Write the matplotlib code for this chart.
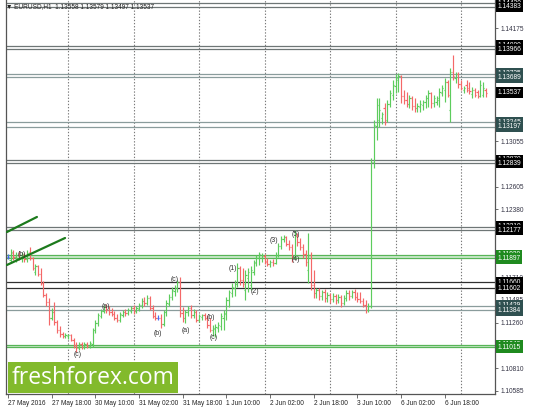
import matplotlib
matplotlib.use('Agg')
import matplotlib.pyplot as plt
from matplotlib.transforms import blended_transform_factory
from matplotlib.patches import Rectangle

# ---------------- data (EURUSD H1) ----------------
opens = [1.11910, 1.11881, 1.11950, 1.11910, 1.11930, 1.11900, 1.11930, 1.11890, 1.11960, 1.11900,
         1.11762, 1.11821, 1.11742, 1.11653, 1.11534, 1.11465, 1.11307, 1.11366, 1.11267, 1.11188,
         1.11149, 1.11129, 1.11129, 1.11139, 1.11089, 1.11040, 1.11010, 1.11050, 1.11020, 1.11050,
         1.11030, 1.11050, 1.11188, 1.11258, 1.11327, 1.11376, 1.11416, 1.11386, 1.11366, 1.11347,
         1.11307, 1.11287, 1.11337, 1.11366, 1.11356, 1.11376, 1.11406, 1.11376, 1.11396, 1.11436,
         1.11475, 1.11455, 1.11505, 1.11406, 1.11327, 1.11307, 1.11307, 1.11248, 1.11366, 1.11445,
         1.11515, 1.11574, 1.11604, 1.11663, 1.11356, 1.11307, 1.11366, 1.11406, 1.11337, 1.11366,
         1.11287, 1.11317, 1.11337, 1.11307, 1.11238, 1.11188, 1.11198, 1.11208, 1.11228, 1.11307,
         1.11347, 1.11485, 1.11554, 1.11604, 1.11643, 1.11801, 1.11683, 1.11584, 1.11703, 1.11633,
         1.11762, 1.11851, 1.11900, 1.11900, 1.11920, 1.11871, 1.11841, 1.11861, 1.11851, 1.11930,
         1.12019, 1.12088, 1.12108, 1.12039, 1.12009, 1.11910, 1.12118, 1.12059, 1.12009, 1.11940,
         1.11782, 1.11930, 1.11633, 1.11554, 1.11584, 1.11525, 1.11564, 1.11505, 1.11534, 1.11495,
         1.11525, 1.11485, 1.11515, 1.11455, 1.11505, 1.11554, 1.11525, 1.11564, 1.11515, 1.11495,
         1.11475, 1.11436, 1.11386, 1.11426, 1.12850, 1.13206, 1.13265, 1.13285, 1.13384, 1.13265,
         1.13423, 1.13512, 1.13601, 1.13661, 1.13700, 1.13503, 1.13463, 1.13423, 1.13483, 1.13404,
         1.13384, 1.13394, 1.13414, 1.13443, 1.13483, 1.13532, 1.13433, 1.13443, 1.13463, 1.13532,
         1.13562, 1.13641, 1.13364, 1.13740, 1.13681, 1.13720, 1.13621, 1.13562, 1.13611, 1.13582,
         1.13522, 1.13562, 1.13542, 1.13503, 1.13512, 1.13558]
highs = [1.11940, 1.11989, 1.11980, 1.11960, 1.11970, 1.11960, 1.11950, 1.11980, 1.12009, 1.11910,
         1.11841, 1.11831, 1.11801, 1.11673, 1.11554, 1.11505, 1.11406, 1.11465, 1.11287, 1.11228,
         1.11169, 1.11159, 1.11149, 1.11149, 1.11109, 1.11070, 1.11070, 1.11070, 1.11070, 1.11070,
         1.11080, 1.11208, 1.11287, 1.11356, 1.11396, 1.11436, 1.11445, 1.11426, 1.11406, 1.11376,
         1.11347, 1.11366, 1.11386, 1.11396, 1.11406, 1.11426, 1.11436, 1.11426, 1.11455, 1.11505,
         1.11515, 1.11534, 1.11525, 1.11436, 1.11366, 1.11337, 1.11347, 1.11386, 1.11485, 1.11544,
         1.11614, 1.11633, 1.11683, 1.11712, 1.11416, 1.11386, 1.11426, 1.11436, 1.11396, 1.11386,
         1.11347, 1.11347, 1.11356, 1.11337, 1.11307, 1.11238, 1.11248, 1.11267, 1.11356, 1.11386,
         1.11515, 1.11584, 1.11653, 1.11683, 1.11851, 1.11821, 1.11801, 1.11782, 1.11801, 1.11821,
         1.11881, 1.11930, 1.11960, 1.11950, 1.11940, 1.11900, 1.11881, 1.11890, 1.11960, 1.12049,
         1.12118, 1.12128, 1.12118, 1.12078, 1.12039, 1.12177, 1.12148, 1.12098, 1.12039, 1.11980,
         1.12148, 1.11960, 1.11782, 1.11604, 1.11604, 1.11584, 1.11594, 1.11564, 1.11554, 1.11554,
         1.11544, 1.11544, 1.11534, 1.11534, 1.11584, 1.11584, 1.11584, 1.11594, 1.11564, 1.11564,
         1.11505, 1.11485, 1.11455, 1.12889, 1.13265, 1.13483, 1.13483, 1.13344, 1.13433, 1.13463,
         1.13562, 1.13661, 1.13720, 1.13730, 1.13710, 1.13562, 1.13542, 1.13512, 1.13503, 1.13483,
         1.13433, 1.13463, 1.13463, 1.13512, 1.13562, 1.13542, 1.13512, 1.13503, 1.13582, 1.13611,
         1.13681, 1.13661, 1.13779, 1.13908, 1.13740, 1.13740, 1.13661, 1.13601, 1.13661, 1.13641,
         1.13592, 1.13582, 1.13562, 1.13661, 1.13641, 1.13579]
lows = [1.11890, 1.11861, 1.11881, 1.11861, 1.11881, 1.11861, 1.11861, 1.11861, 1.11881, 1.11782,
        1.11732, 1.11722, 1.11633, 1.11515, 1.11426, 1.11238, 1.11287, 1.11238, 1.11159, 1.11119,
        1.11109, 1.11109, 1.11099, 1.11080, 1.11010, 1.10971, 1.10991, 1.11000, 1.11000, 1.11010,
        1.11010, 1.11020, 1.11159, 1.11228, 1.11307, 1.11356, 1.11356, 1.11337, 1.11327, 1.11287,
        1.11267, 1.11267, 1.11317, 1.11327, 1.11337, 1.11356, 1.11347, 1.11356, 1.11376, 1.11406,
        1.11426, 1.11436, 1.11386, 1.11307, 1.11287, 1.11287, 1.11208, 1.11228, 1.11327, 1.11426,
        1.11485, 1.11525, 1.11564, 1.11317, 1.11267, 1.11258, 1.11327, 1.11307, 1.11307, 1.11267,
        1.11267, 1.11287, 1.11287, 1.11208, 1.11169, 1.11129, 1.11119, 1.11169, 1.11188, 1.11188,
        1.11287, 1.11416, 1.11515, 1.11525, 1.11614, 1.11633, 1.11614, 1.11485, 1.11564, 1.11584,
        1.11732, 1.11821, 1.11831, 1.11861, 1.11841, 1.11821, 1.11811, 1.11821, 1.11841, 1.11910,
        1.11989, 1.12059, 1.12019, 1.11980, 1.11861, 1.11890, 1.12019, 1.11980, 1.11900, 1.11821,
        1.11653, 1.11584, 1.11505, 1.11505, 1.11485, 1.11485, 1.11465, 1.11465, 1.11455, 1.11465,
        1.11445, 1.11455, 1.11416, 1.11436, 1.11475, 1.11485, 1.11505, 1.11485, 1.11465, 1.11455,
        1.11416, 1.11356, 1.11366, 1.11406, 1.12790, 1.13067, 1.13196, 1.13226, 1.13216, 1.13245,
        1.13394, 1.13463, 1.13532, 1.13542, 1.13433, 1.13423, 1.13394, 1.13384, 1.13364, 1.13344,
        1.13344, 1.13344, 1.13364, 1.13384, 1.13394, 1.13384, 1.13394, 1.13414, 1.13394, 1.13503,
        1.13443, 1.13493, 1.13245, 1.13661, 1.13631, 1.13582, 1.13562, 1.13532, 1.13542, 1.13522,
        1.13483, 1.13493, 1.13483, 1.13493, 1.13493, 1.13497]
closes = [1.11910, 1.11960, 1.11910, 1.11930, 1.11900, 1.11940, 1.11890, 1.11950, 1.11900, 1.11801,
          1.11821, 1.11742, 1.11653, 1.11534, 1.11465, 1.11307, 1.11366, 1.11267, 1.11188, 1.11149,
          1.11129, 1.11139, 1.11139, 1.11089, 1.11040, 1.11010, 1.11050, 1.11020, 1.11050, 1.11030,
          1.11060, 1.11188, 1.11258, 1.11337, 1.11376, 1.11416, 1.11386, 1.11366, 1.11347, 1.11307,
          1.11287, 1.11347, 1.11366, 1.11356, 1.11386, 1.11406, 1.11376, 1.11406, 1.11436, 1.11475,
          1.11455, 1.11505, 1.11406, 1.11327, 1.11307, 1.11307, 1.11248, 1.11366, 1.11455, 1.11515,
          1.11584, 1.11604, 1.11663, 1.11356, 1.11307, 1.11366, 1.11406, 1.11337, 1.11366, 1.11287,
          1.11327, 1.11337, 1.11307, 1.11238, 1.11188, 1.11208, 1.11218, 1.11238, 1.11327, 1.11356,
          1.11485, 1.11564, 1.11614, 1.11643, 1.11801, 1.11683, 1.11643, 1.11732, 1.11762, 1.11782,
          1.11861, 1.11900, 1.11940, 1.11930, 1.11861, 1.11841, 1.11861, 1.11851, 1.11930, 1.12019,
          1.12088, 1.12108, 1.12039, 1.12009, 1.11910, 1.12118, 1.12059, 1.12009, 1.11940, 1.11861,
          1.11930, 1.11633, 1.11554, 1.11584, 1.11525, 1.11564, 1.11505, 1.11534, 1.11495, 1.11525,
          1.11485, 1.11515, 1.11455, 1.11505, 1.11554, 1.11525, 1.11564, 1.11515, 1.11495, 1.11475,
          1.11436, 1.11386, 1.11426, 1.12850, 1.13216, 1.13414, 1.13364, 1.13325, 1.13245, 1.13423,
          1.13532, 1.13611, 1.13681, 1.13700, 1.13503, 1.13463, 1.13423, 1.13483, 1.13404, 1.13384,
          1.13404, 1.13423, 1.13443, 1.13483, 1.13532, 1.13433, 1.13483, 1.13483, 1.13542, 1.13582,
          1.13641, 1.13512, 1.13740, 1.13700, 1.13720, 1.13621, 1.13582, 1.13582, 1.13562, 1.13552,
          1.13562, 1.13512, 1.13503, 1.13611, 1.13582, 1.13537]

x_tick_pos = [0, 16, 32, 48, 64, 80, 96, 112, 128, 144, 160]
x_tick_labels = ['27 May 2016', '27 May 18:00', '30 May 10:00', '31 May 02:00', '31 May 18:00',
                 '1 Jun 10:00', '2 Jun 02:00', '2 Jun 18:00', '3 Jun 10:00', '6 Jun 02:00', '6 Jun 18:00']
day_separators = [22, 46, 70, 94, 118, 142, 166]

# price-scale ticks; those hidden behind the level boxes in the reference carry no label
y_tick_values = [1.10585, 1.10810, 1.11035, 1.11260, 1.11485, 1.11710, 1.11935, 1.12155, 1.12380,
                 1.12605, 1.12830, 1.13055, 1.13280, 1.13505, 1.13730, 1.13955, 1.14175]
y_tick_labels = ['1.10585', '1.10810', '', '1.11260', '1.11485', '1.11710', '', '', '1.12380',
                 '1.12605', '', '1.13055', '', '', '', '', '1.14175']

level_upper = [1.14420, 1.14000, 1.13725, 1.13245, 1.12870, 1.12210, 1.11930, 1.11660, 1.11429, 1.11040]
level_lower = [1.14383, 1.13966, 1.13689, 1.13197, 1.12839, 1.12177, 1.11897, 1.11602, 1.11384, 1.11015]
level_kind = ['black', 'black', 'teal', 'teal', 'black', 'black', 'green', 'black', 'teal', 'green']

current_price = 1.13537

wave_text = ['(b)', '(c)', '(a)', '(b)', '(c)', '(a)', '(b)', '(c)', '(1)', '(2)', '(3)', '(5)', '(4)']
wave_bar = [5, 25.6, 36, 55, 61, 65, 74.4, 75.2, 82.4, 90.5, 97.4, 105.5, 105.5]
wave_price = [1.11930, 1.10941, 1.11416, 1.11149, 1.11683, 1.11188, 1.11307, 1.11109,
              1.11792, 1.11564, 1.12078, 1.12128, 1.11881]

trend1_bar = [-0.4, 10.6]
trend1_price = [1.12157, 1.12306]
trend2_bar = [-0.4, 20.9]
trend2_price = [1.11831, 1.12098]

title = '\u25bc EURUSD,H1  1.13558 1.13579 1.13497 1.13537'

# ---------------- styles ----------------
UP = '#5dcc5d'
DOWN = '#f46868'
DOJI = '#4a6cf0'
box_colors = {'black': '#000000', 'teal': '#2f5050', 'green': '#1f8a1f'}
line_colors = {'black': '#6e7676', 'teal': '#8a9c9c', 'green': '#58b558'}
FONT = 'Liberation Sans'

W, H = 536, 411
fig = plt.figure(figsize=(W / 100, H / 100), dpi=100)
fig.patch.set_facecolor('white')
ax = fig.add_axes([6 / W, 17 / H, 489 / W, 394 / H])
ax.set_facecolor('white')
ax.set_xlim(-0.73, 178.4)
ax.set_ylim(1.10555, 1.14452)

# day separators
for d in day_separators:
    ax.axvline(d, color='#7a7a7a', lw=0.8, ls=(0, (1.2, 1.6)), zorder=1)

# level lines
for up, lo, kind in zip(level_upper, level_lower, level_kind):
    if kind == 'green':
        ax.axhspan(lo, up, color='#cfead0', lw=0, zorder=1.2)
    c = line_colors[kind]
    if lo == 1.11602:
        c = '#303030'
    ax.axhline(up, color=c, lw=0.9, zorder=1.3)
    ax.axhline(lo, color=c, lw=0.9, zorder=1.3)

# OHLC bars
n = len(opens)
for i in range(n):
    o, h, l, c = opens[i], highs[i], lows[i], closes[i]
    col = UP if c > o else (DOWN if c < o else DOJI)
    ax.vlines(i, l, h, color=col, lw=0.85, zorder=3)
    ax.hlines(o, i - 0.45, i, color=col, lw=0.85, zorder=3)
    ax.hlines(c, i, i + 0.45, color=col, lw=0.85, zorder=3)

# trend lines
ax.plot(trend1_bar, trend1_price, color='#1c7a1c', lw=1.6, zorder=4, solid_capstyle='round')
ax.plot(trend2_bar, trend2_price, color='#1c7a1c', lw=1.6, zorder=4, solid_capstyle='round')

# wave labels
for t, b, p in zip(wave_text, wave_bar, wave_price):
    ax.text(b, p, t, fontsize=5, color='#333333', ha='center', va='center', zorder=5,
            family=FONT)

# axes styling
ax.spines['top'].set_visible(False)
for s in ['left', 'bottom', 'right']:
    ax.spines[s].set_color('#555555')
    ax.spines[s].set_linewidth(0.9)

ax.set_xticks(x_tick_pos)
ax.set_xticklabels(x_tick_labels)
for lbl in ax.get_xticklabels():
    lbl.set_ha('left')
    lbl.set_fontsize(4.7)
    lbl.set_family(FONT)
    lbl.set_color('#222222')
ax.tick_params(axis='x', direction='out', length=3, width=0.6, color='#555555', pad=1)

ax.yaxis.tick_right()
ax.set_yticks(y_tick_values)
ax.set_yticklabels(y_tick_labels)
for lbl in ax.get_yticklabels():
    lbl.set_fontsize(4.7)
    lbl.set_family(FONT)
    lbl.set_color('#333344')
ax.tick_params(axis='y', direction='out', length=2.5, width=0.6, color='#555555', pad=1.5)

# price boxes on the right
tr = blended_transform_factory(ax.transAxes, ax.transData)
def price_box(p, color):
    ax.text(1.005, p, '%.5f' % p, transform=tr, ha='left', va='center', fontsize=4.8,
            family=FONT, color='white', zorder=20, clip_on=False,
            bbox=dict(boxstyle='square,pad=0.28', fc=color, ec='none'))

for up, lo, kind in zip(level_upper, level_lower, level_kind):
    price_box(up, box_colors[kind])
    price_box(lo, box_colors[kind])
price_box(current_price, '#000000')

# title
fig.text(6 / W, 1 - 7 / H, title, fontsize=4.7, family=FONT, color='#222222', va='center', ha='left')

# watermark
fig.patches.append(Rectangle((8 / W, 18 / H), 170 / W, 31 / H, transform=fig.transFigure,
                             facecolor='#82ba2c', edgecolor='none', zorder=30))
fig.text(93 / W, 33.5 / H, 'freshforex.com', fontsize=16.5, family='Open Sans', color='white',
         ha='center', va='center', zorder=31)

fig.savefig('out.png', dpi=100)
